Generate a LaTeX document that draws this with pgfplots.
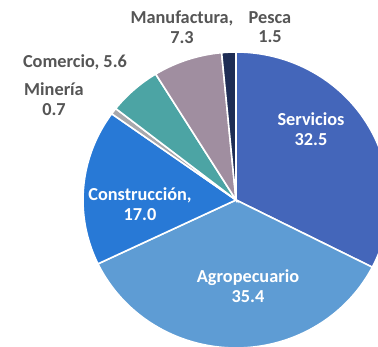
\documentclass[border=0pt]{standalone}
\usepackage{pgfplots}
\pgfplotsset{compat=1.18}
\usepackage{fontspec}
\setmainfont{Carlito}
\definecolor{cServ}{RGB}{68,102,186}
\definecolor{cAgro}{RGB}{94,156,212}
\definecolor{cCons}{RGB}{40,121,214}
\definecolor{cMin}{RGB}{168,168,172}
\definecolor{cCom}{RGB}{76,164,164}
\definecolor{cMan}{RGB}{160,142,160}
\definecolor{cPes}{RGB}{30,45,85}
\definecolor{lab}{RGB}{85,85,85}
\begin{document}
\begin{tikzpicture}
% values (percent)
\def\vServ{32.5}\def\vAgro{35.4}\def\vCons{17.0}\def\vMin{0.7}
\def\vCom{5.6}\def\vMan{7.3}\def\vPes{1.5}
\pgfmathsetmacro\aA{90}
\pgfmathsetmacro\aB{\aA-\vServ*3.6}
\pgfmathsetmacro\aC{\aB-\vAgro*3.6}
\pgfmathsetmacro\aD{\aC-\vCons*3.6}
\pgfmathsetmacro\aE{\aD-\vMin*3.6}
\pgfmathsetmacro\aF{\aE-\vCom*3.6}
\pgfmathsetmacro\aG{\aF-\vMan*3.6}
\pgfmathsetmacro\aH{\aG-\vPes*3.6}
\begin{axis}[
  width=378pt, height=346pt, scale only axis,
  xmin=0, xmax=378, ymin=0, ymax=346,
  hide axis, clip=true,
]
\path (rel axis cs:0,0) rectangle (rel axis cs:1,1);
\addplot[fill=cServ, draw=white, line width=1.6pt, domain=\aB:\aA, samples=80, variable=\t] ({236+153*cos(t)},{146+148*sin(t)}) -- (axis cs:236,146) -- cycle;
\addplot[fill=cAgro, draw=white, line width=1.6pt, domain=\aC:\aB, samples=80, variable=\t] ({236+153*cos(t)},{146+148*sin(t)}) -- (axis cs:236,146) -- cycle;
\addplot[fill=cCons, draw=white, line width=1.6pt, domain=\aD:\aC, samples=60, variable=\t] ({236+153*cos(t)},{146+148*sin(t)}) -- (axis cs:236,146) -- cycle;
\addplot[fill=cMin, draw=white, line width=1.6pt, domain=\aE:\aD, samples=5, variable=\t] ({236+153*cos(t)},{146+148*sin(t)}) -- (axis cs:236,146) -- cycle;
\addplot[fill=cCom, draw=white, line width=1.6pt, domain=\aF:\aE, samples=20, variable=\t] ({236+153*cos(t)},{146+148*sin(t)}) -- (axis cs:236,146) -- cycle;
\addplot[fill=cMan, draw=white, line width=1.6pt, domain=\aG:\aF, samples=25, variable=\t] ({236+153*cos(t)},{146+148*sin(t)}) -- (axis cs:236,146) -- cycle;
\addplot[fill=cPes, draw=white, line width=1.6pt, domain=\aH:\aG, samples=8, variable=\t] ({236+153*cos(t)},{146+148*sin(t)}) -- (axis cs:236,146) -- cycle;
\tikzset{lbl/.style={font=\fontsize{18.3}{19.5}\selectfont\bfseries, align=center, inner sep=0pt}}
\node[lbl, text=white] at (axis cs:311,217) {Servicios\\32.5};
\node[lbl, text=white] at (axis cs:248,60) {Agropecuario\\35.4};
\node[lbl, text=white] at (axis cs:140,142) {Construcción,\\17.0};
\node[lbl, text=lab] at (axis cs:54,247) {Minería\\0.7};
\node[lbl, text=lab] at (axis cs:75,284) {Comercio, 5.6};
\node[lbl, text=lab] at (axis cs:182,319) {Manufactura,\\7.3};
\node[lbl, text=lab] at (axis cs:270,319) {Pesca\\1.5};
\end{axis}
\end{tikzpicture}
\end{document}
